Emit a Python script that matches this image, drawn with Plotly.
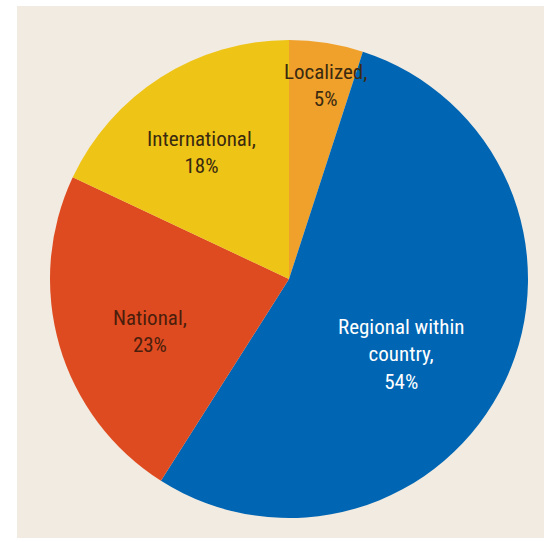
import plotly.graph_objects as go

# Share of shipments by destination market
categories = ["Localized", "Regional within country", "National", "International"]
shares = [5, 54, 23, 18]
label_text = ["Localized,", "Regional within<br>country,", "National,", "International,"]

colors = ["#f0a12c", "#0066b4", "#df4b20", "#eec416"]
text_colors = ["#3a2a10", "#ffffff", "#4a1e0c", "#3a2a10"]

W, H = 544, 542
cx, cy, r = 289, 279, 239

# label centres in pixels (x from left, y from top)
label_px = [(325, 86), (401, 354), (150, 331), (201, 152)]

fig = go.Figure(go.Pie(
    labels=categories,
    values=shares,
    sort=False,
    direction="clockwise",
    rotation=0,
    marker=dict(colors=colors, line=dict(width=0)),
    textinfo="none",
    hoverinfo="label+percent",
    showlegend=False,
    domain=dict(x=[(cx - r) / W, (cx + r) / W], y=[1 - (cy + r) / H, 1 - (cy - r) / H]),
))

for lab, val, tc, (px, py) in zip(label_text, shares, text_colors, label_px):
    fig.add_annotation(
        x=px / W, y=1 - py / H, xref="paper", yref="paper",
        xanchor="center", yanchor="middle",
        text=f"{lab}<br>{val}%",
        showarrow=False,
        font=dict(family="Liberation Sans Narrow, Roboto Condensed, Roboto, sans-serif",
                  size=21, color=tc),
        align="center",
    )

fig.update_layout(
    width=W, height=H,
    margin=dict(l=0, r=0, t=0, b=0),
    paper_bgcolor="#ffffff",
    shapes=[dict(type="rect", xref="paper", yref="paper",
                 x0=17 / W, x1=1, y0=1 - 538 / H, y1=1 - 6 / H,
                 fillcolor="#f2ebe1", line=dict(width=0), layer="below")],
)

fig.write_html("out.html")
